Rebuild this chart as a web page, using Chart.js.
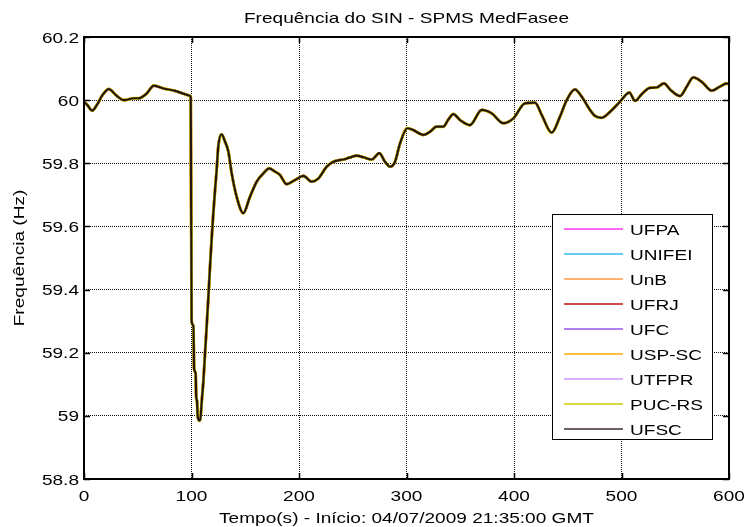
<!DOCTYPE html>
<html>
<head>
<meta charset="utf-8">
<script src="https://cdn.jsdelivr.net/npm/chart.js@4.4.1/dist/chart.umd.min.js"></script>
<style>
  body { margin: 0; background: #fff; }
  canvas { display: block; }
</style>
</head>
<body>
<canvas id="freqchart" width="746" height="527"></canvas>
<script>
// Tempo (s) e frequencia (Hz) - todas as PMUs se sobrepoem
var tempo = [0, 3, 7.7, 12, 17, 23, 30, 37, 46.5, 51, 58, 65, 74, 84, 93, 96.7, 99.3, 100.1, 101.8, 102.4,
    103.8, 104.4, 105.2, 105.7, 107.3, 108.2, 109.5, 111, 112.5, 114, 115.7, 117.2, 118.8, 120.3, 121.9,
    123.4, 124.9, 128, 131, 134.3, 137.4, 142, 148.2, 154.4, 160.7, 166.8, 172.4, 177, 182.3, 188.5,
    196.3, 204, 211.8, 218, 225.7, 232, 241.2, 247, 253.6, 259.8, 267.6, 274.7, 280, 284.7, 289.3, 294,
    300.7, 306.3, 315.7, 321.9, 328, 334.3, 339, 343.6, 349.8, 359, 370, 379.3, 390, 399.3, 410.2, 419.5,
    425.8, 435, 442.8, 449, 456.7, 463, 470.7, 475.3, 481.6, 489.3, 498.6, 507.3, 512.6, 518.8, 526.5,
    532.7, 539.5, 545.7, 554.4, 560.7, 566.8, 574.6, 583.9, 591.6, 597.9, 600];
var freq = [59.995, 59.985, 59.967, 59.985, 60.015, 60.035, 60.015, 60.0, 60.006, 60.006, 60.02, 60.046,
    60.037, 60.03, 60.02, 60.016, 60.01, 59.30, 59.285, 59.15, 59.135, 59.06, 59.045, 59.0, 58.985, 58.99,
    59.045, 59.108, 59.193, 59.278, 59.377, 59.472, 59.563, 59.642, 59.715, 59.779, 59.853, 59.892, 59.87,
    59.837, 59.768, 59.694, 59.642, 59.694, 59.742, 59.768, 59.784, 59.775, 59.763, 59.734, 59.747, 59.76,
    59.742, 59.752, 59.789, 59.805, 59.812, 59.818, 59.824, 59.819, 59.812, 59.832, 59.805, 59.789, 59.805,
    59.863, 59.911, 59.905, 59.89, 59.9, 59.916, 59.916, 59.939, 59.956, 59.937, 59.921, 59.969, 59.958,
    59.927, 59.942, 59.99, 59.992, 59.953, 59.897, 59.948, 60.0, 60.034, 60.011, 59.969, 59.95, 59.944,
    59.963, 59.995, 60.024, 59.998, 60.019, 60.039, 60.04, 60.053, 60.032, 60.013, 60.043, 60.072, 60.058,
    60.03, 60.043, 60.053, 60.05];

var estacoes = ['UFPA', 'UNIFEI', 'UnB', 'UFRJ', 'UFC', 'USP-SC', 'UTFPR', 'PUC-RS', 'UFSC'];
var cores = ['#ff33ee', '#33bbee', '#ff9944', '#bb1111', '#9955ee', '#ffaa00', '#cc99ff', '#cccc00', '#3e2c2c'];
var corTraco = ['#ff33ee', '#33bbee', '#ff9944', '#bb1111', '#9955ee', '#ffaa00', '#cc99ff', '#dddd00', '#24140e'];
var larguras = [2.6, 2.2, 2.6, 2.2, 2.6, 2.6, 2.2, 3.0, 2.2];

var xTicks = [0, 100, 200, 300, 400, 500, 600];
var xTickLabels = ['0', '100', '200', '300', '400', '500', '600'];
var yTicks = [58.8, 59, 59.2, 59.4, 59.6, 59.8, 60, 60.2];
var yTickLabels = ['58.8', '59', '59.2', '59.4', '59.6', '59.8', '60', '60.2'];

var titulo = 'Frequência do SIN - SPMS MedFasee';
var tituloX = 'Tempo(s) - Início: 04/07/2009 21:35:00 GMT';
var tituloY = 'Frequência (Hz)';

// the text in the source is wide, stretch it along the writing direction
var SX = 1.27;
var FONTE = '15px "Liberation Sans", Arial, sans-serif';

function texto(ctx, s, x, y, align, rot) {
    ctx.save();
    ctx.translate(x, y);
    if (rot) ctx.rotate(rot);
    ctx.scale(SX, 1);
    ctx.textAlign = align;
    ctx.textBaseline = 'alphabetic';
    ctx.fillText(s, 0, 0);
    ctx.restore();
}

var pontos = tempo.map(function (t, i) { return { x: t, y: freq[i] }; });

var datasets = estacoes.map(function (nome, i) {
    return {
        label: nome,
        data: pontos,
        borderColor: corTraco[i],
        borderWidth: larguras[i],
        pointRadius: 0,
        fill: false,
        cubicInterpolationMode: 'monotone',
        order: estacoes.length - i,
    };
});

const moldura = {
    id: 'moldura',
    afterDraw: function (chart) {
        var ctx = chart.ctx;
        var a = chart.chartArea;
        var xs = chart.scales.x;
        var ys = chart.scales.y;

        ctx.save();
        ctx.fillStyle = '#000';
        ctx.font = FONTE;

        // inner ticks on all four sides
        ctx.strokeStyle = '#000';
        ctx.lineWidth = 1.5;
        ctx.beginPath();
        xTicks.forEach(function (v) {
            var px = Math.round(xs.getPixelForValue(v)) + 0.5;
            ctx.moveTo(px, a.bottom); ctx.lineTo(px, a.bottom - 6);
            ctx.moveTo(px, a.top); ctx.lineTo(px, a.top + 6);
        });
        yTicks.forEach(function (v) {
            var py = Math.round(ys.getPixelForValue(v)) + 0.5;
            ctx.moveTo(a.left, py); ctx.lineTo(a.left + 6, py);
            ctx.moveTo(a.right, py); ctx.lineTo(a.right - 6, py);
        });
        ctx.stroke();

        // box
        ctx.lineWidth = 2;
        ctx.strokeRect(a.left, a.top, a.right - a.left, a.bottom - a.top);

        // tick labels
        xTicks.forEach(function (v, i) {
            texto(ctx, xTickLabels[i], xs.getPixelForValue(v), a.bottom + 22, 'center');
        });
        yTicks.forEach(function (v, i) {
            texto(ctx, yTickLabels[i], a.left - 5, ys.getPixelForValue(v) + 5.5, 'right');
        });

        // titles
        var cx = (a.left + a.right) / 2;
        texto(ctx, titulo, cx, 23, 'center');
        texto(ctx, tituloX, cx, 523, 'center');
        texto(ctx, tituloY, 24, (a.top + a.bottom) / 2, 'center', -Math.PI / 2);

        // legend
        var lx = 552, ly = 214, lw = 160, lh = 225;
        ctx.fillStyle = '#fff';
        ctx.fillRect(lx, ly, lw, lh);
        ctx.lineWidth = 1;
        ctx.strokeStyle = '#000';
        ctx.strokeRect(lx + 0.5, ly + 0.5, lw, lh);
        estacoes.forEach(function (nome, i) {
            var yy = ly + 15 + i * 25;
            ctx.strokeStyle = cores[i];
            ctx.lineWidth = 1.5;
            ctx.beginPath();
            ctx.moveTo(564, yy); ctx.lineTo(623, yy);
            ctx.stroke();
            ctx.fillStyle = '#000';
            texto(ctx, nome, 630, yy + 5.5, 'left');
        });
        ctx.restore();
    }
};

const ctx = document.querySelector('#freqchart').getContext('2d');

const freqchart = new Chart(ctx, {
    type: 'line',
    data: { datasets: datasets },
    options: {
        responsive: false,
        animation: false,
        layout: { padding: { top: 37, right: 17, left: 0, bottom: 0 } },
        plugins: {
            legend: { display: false },
            title: { display: false },
            tooltip: { enabled: false }
        },
        scales: {
            x: {
                type: 'linear',
                min: 0,
                max: 600,
                afterBuildTicks: function (s) { s.ticks = xTicks.map(function (v) { return { value: v }; }); },
                afterFit: function (s) { s.height = 48; },
                ticks: { display: false },
                grid: { color: '#111', lineWidth: 1, drawTicks: false },
                border: { display: false, dash: [1, 1] }
            },
            y: {
                min: 58.8,
                max: 60.2,
                afterBuildTicks: function (s) { s.ticks = yTicks.map(function (v) { return { value: v }; }); },
                afterFit: function (s) { s.width = 84; },
                ticks: { display: false },
                grid: { color: '#111', lineWidth: 1, drawTicks: false },
                border: { display: false, dash: [1, 1] }
            }
        }
    },
    plugins: [moldura]
});
</script>
</body>
</html>
